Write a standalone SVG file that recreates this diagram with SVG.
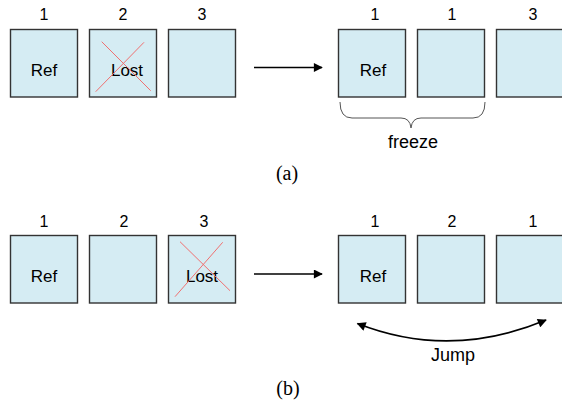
<svg xmlns="http://www.w3.org/2000/svg" width="562" height="400" viewBox="0 0 562 400">
<style>
.box{fill:#d5ecf3;stroke:#333;stroke-width:1.4}
.num{font-family:"Liberation Sans",Arial,sans-serif;font-size:16px;fill:#000;text-anchor:middle}
.lbl{font-family:"Liberation Sans",Arial,sans-serif;font-size:17px;fill:#000;text-anchor:middle}
.big{font-family:"Liberation Sans",Arial,sans-serif;font-size:18px;fill:#000;text-anchor:middle}
.cap{font-family:"Liberation Serif","Times New Roman",serif;font-size:20px;fill:#000;text-anchor:middle}
.cross{stroke:#f07070;stroke-width:1;fill:none}
.conn{stroke:#000;stroke-width:1.6;fill:none}
</style>
<defs>
<marker id="ah2" viewBox="0 0 10 10" refX="9" refY="5" markerWidth="11" markerHeight="9" markerUnits="userSpaceOnUse" orient="auto-start-reverse">
<path d="M0,0 L10,5 L0,10 z" fill="#000"/>
</marker>
</defs>
<g id="a-frame1"><rect class="box" x="10.5" y="29.5" width="67" height="67.5"/><text class="num" x="44" y="20">1</text><text class="lbl" x="44" y="76">Ref</text></g>
<g id="a-frame2"><rect class="box" x="89.5" y="29.5" width="67" height="67.5"/><text class="num" x="123" y="20">2</text><text class="lbl" x="127" y="76">Lost</text><line class="cross" x1="101.7" y1="41.7" x2="150.7" y2="90.7"/><line class="cross" x1="144" y1="42.3" x2="95.7" y2="91.7"/></g>
<g id="a-frame3"><rect class="box" x="168.5" y="29.5" width="67" height="67.5"/><text class="num" x="202" y="20">3</text></g>
<g id="a-out1"><rect class="box" x="338.5" y="29.5" width="67" height="67.5"/><text class="num" x="375" y="20">1</text><text class="lbl" x="373" y="76">Ref</text></g>
<g id="a-out2"><rect class="box" x="417.5" y="29.5" width="67" height="67.5"/><text class="num" x="452" y="20">1</text></g>
<g id="a-out3"><rect class="box" x="496.5" y="29.5" width="67" height="67.5"/><text class="num" x="533" y="20">3</text></g>
<g id="a-freeze"><path d="M340,102 Q340,118 352,118 L401,118 Q410,118 411,128 Q412,118 421,118 L473,118 Q485,118 485,102" fill="none" stroke="#555" stroke-width="1"/><text class="big" x="413" y="148">freeze</text></g>
<text class="cap" x="287" y="180">(a)</text>
<g id="b-frame1"><rect class="box" x="10.5" y="235.5" width="67" height="67.5"/><text class="num" x="44" y="226.5">1</text><text class="lbl" x="44" y="281.5">Ref</text></g>
<g id="b-frame2"><rect class="box" x="89.5" y="235.5" width="67" height="67.5"/><text class="num" x="124" y="226.5">2</text></g>
<g id="b-frame3"><rect class="box" x="168.5" y="235.5" width="67" height="67.5"/><text class="num" x="204" y="226.5">3</text><text class="lbl" x="202" y="281.5">Lost</text><line class="cross" x1="180" y1="241.7" x2="230" y2="290.7"/><line class="cross" x1="222.7" y1="242.3" x2="175" y2="296.7"/></g>
<g id="b-out1"><rect class="box" x="338.5" y="235.5" width="67" height="67.5"/><text class="num" x="375" y="226.5">1</text><text class="lbl" x="373" y="281.5">Ref</text></g>
<g id="b-out2"><rect class="box" x="417.5" y="235.5" width="67" height="67.5"/><text class="num" x="452" y="226.5">2</text></g>
<g id="b-out3"><rect class="box" x="496.5" y="235.5" width="67" height="67.5"/><text class="num" x="533" y="226.5">1</text></g>
<g id="connectors">
<line class="conn" x1="254" y1="67.5" x2="322" y2="67.5" marker-end="url(#ah2)"/>
<line class="conn" x1="254" y1="274" x2="322" y2="274" marker-end="url(#ah2)"/>
<path class="conn" d="M357.5,323.5 Q450,360 546,320" marker-start="url(#ah2)" marker-end="url(#ah2)"/>
</g>
<text class="big" x="453" y="361">Jump</text>
<text class="cap" x="288" y="395">(b)</text>
</svg>
